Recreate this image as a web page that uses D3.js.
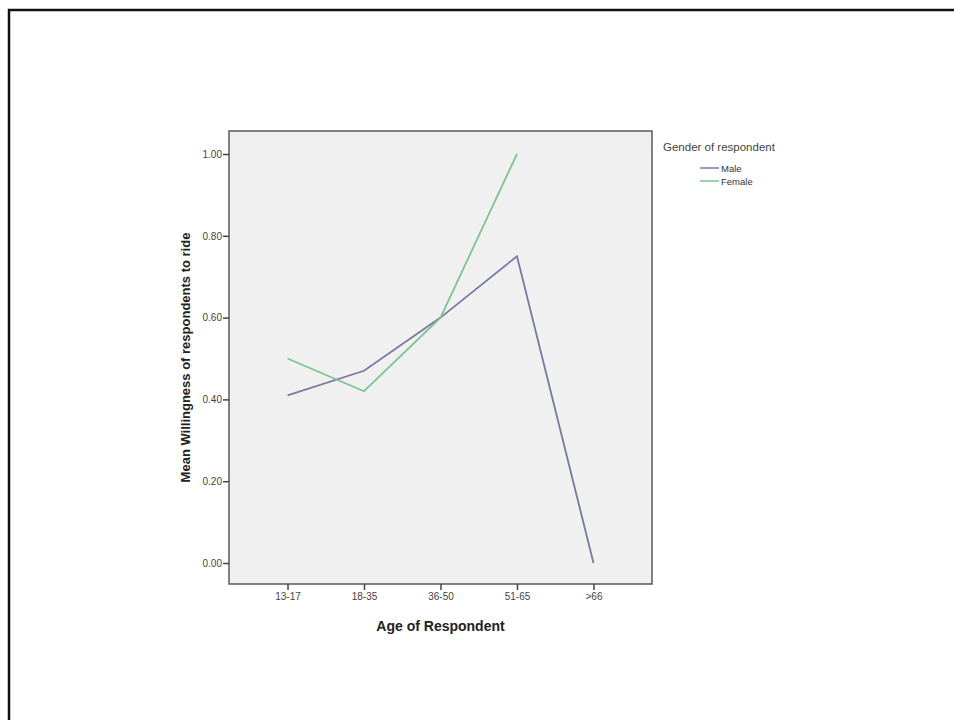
<!DOCTYPE html>
<html>
<head>
<meta charset="utf-8">
<script src="https://cdn.jsdelivr.net/npm/d3@7"></script>
<style>
  body { margin: 0; background: #fff; }
  svg { display: block; font-family: 'Liberation Sans', Arial, sans-serif; }
</style>
</head>
<body>
<svg id="chart" width="954" height="720"></svg>
<script>
const ageGroups = ['13-17', '18-35', '36-50', '51-65', '>66']
const maleValues = [0.41, 0.47, 0.60, 0.75, 0.00]
const femaleValues = [0.50, 0.42, 0.60, 1.00]
const yTicks = [0, 0.2, 0.4, 0.6, 0.8, 1.0]
const seriesNames = ['Male', 'Female']
const seriesColors = ['#7878a6', '#7ec48c']

const svg = d3.select('#chart')
const width = 954
const height = 720

// slide border (top and left edges visible)
svg.append('rect')
  .attr('x', 9)
  .attr('y', 10)
  .attr('width', width + 20)
  .attr('height', height + 20)
  .attr('fill', 'none')
  .attr('stroke', '#111')
  .attr('stroke-width', 2.5)

const frame = { left: 229, top: 131, right: 652, bottom: 584 }

const x = d3.scalePoint()
  .domain(ageGroups)
  .range([frame.left, frame.right])
  .padding(0.765)

const y = d3.scaleLinear()
  .domain([0, 1])
  .range([563, 154])

// ------------------
// Plot background
// ------------------
svg.append('rect')
  .attr('x', frame.left)
  .attr('y', frame.top)
  .attr('width', frame.right - frame.left)
  .attr('height', frame.bottom - frame.top)
  .attr('fill', '#f0f0f0')
  .attr('stroke', '#5a5a5a')
  .attr('stroke-width', 1.5)

// ------------------
// Axes
// ------------------
const yAxis = svg.append('g')
  .attr('transform', `translate(${frame.left},0)`)
  .call(d3.axisLeft(y).tickValues(yTicks).tickFormat(d3.format('.2f')).tickSize(6).tickPadding(1))
yAxis.select('.domain').remove()

const xAxis = svg.append('g')
  .attr('transform', `translate(0,${frame.bottom})`)
  .call(d3.axisBottom(x).tickSize(6).tickPadding(3))
xAxis.select('.domain').remove()

svg.selectAll('.tick line').attr('stroke', '#444').attr('stroke-width', 1.5)
svg.selectAll('.tick text').attr('fill', '#444').attr('font-size', 10)
  .attr('font-family', "'Liberation Sans', Arial, sans-serif")

svg.append('text')
  .attr('transform', `translate(190,${(frame.top + frame.bottom) / 2}) rotate(-90)`)
  .attr('text-anchor', 'middle')
  .attr('font-weight', 'bold')
  .attr('font-size', 13)
  .attr('fill', '#222')
  .text('Mean Willingness of respondents to ride')

svg.append('text')
  .attr('x', (frame.left + frame.right) / 2)
  .attr('y', 631)
  .attr('text-anchor', 'middle')
  .attr('font-weight', 'bold')
  .attr('font-size', 14)
  .attr('fill', '#222')
  .text('Age of Respondent')

// ------------------
// Lines
// ------------------
const line = d3.line()
  .x((d, i) => x(ageGroups[i]))
  .y(d => y(d))

;[maleValues, femaleValues].forEach((vals, i) => {
  svg.append('path')
    .datum(vals)
    .attr('d', line)
    .attr('fill', 'none')
    .attr('stroke', seriesColors[i])
    .attr('stroke-width', 1.8)
})

// ------------------
// Legend
// ------------------
svg.append('text')
  .attr('x', 663)
  .attr('y', 151)
  .attr('font-size', 11.5)
  .attr('fill', '#444')
  .text('Gender of respondent')

seriesNames.forEach((name, i) => {
  const ly = 168 + i * 13
  svg.append('line')
    .attr('x1', 700).attr('x2', 719)
    .attr('y1', ly).attr('y2', ly)
    .attr('stroke', seriesColors[i])
    .attr('stroke-width', 1.5)
  svg.append('text')
    .attr('x', 721)
    .attr('y', ly + 3.5)
    .attr('font-size', 9.5)
    .attr('fill', '#333')
    .text(name)
})
</script>
</body>
</html>
